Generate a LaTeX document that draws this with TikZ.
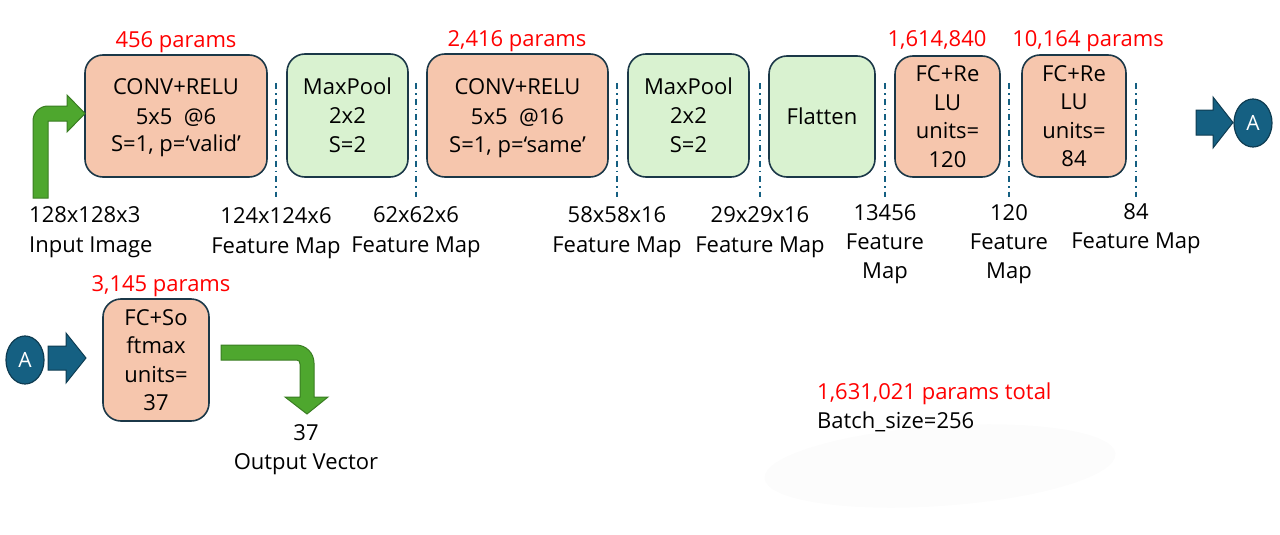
\documentclass[tikz,border=0pt]{standalone}
\usepackage{fontspec}
\setmainfont{Open Sans}
\usetikzlibrary{shapes.geometric}
\definecolor{salmon}{HTML}{F6C6AD}
\definecolor{mint}{HTML}{D9F2D0}
\definecolor{edgec}{HTML}{1B3848}
\definecolor{tealb}{HTML}{156082}
\definecolor{tealdk}{HTML}{0E3C52}
\definecolor{grn}{HTML}{4EA72E}
\definecolor{grndk}{HTML}{3A7D22}
\definecolor{pred}{HTML}{FF0000}
\begin{document}
\begin{tikzpicture}[x=1pt,y=-1pt,
  txt/.style={font=\fontsize{22}{29}\selectfont, inner sep=0pt, align=center},
  txtw/.style={font=\fontsize{22}{30}\selectfont, inner sep=0pt, align=center},
  line/.style={font=\fontsize{22}{29}\selectfont, inner sep=0pt, anchor=base},
  layer/.style={txt, draw=edgec, line width=1.6pt, rounded corners=18pt},
  convbox/.style={layer, fill=salmon},
  fcbox/.style={convbox, font=\fontsize{22}{28.5}\selectfont},
  poolbox/.style={layer, fill=mint},
  plabel/.style={txt, text=pred, anchor=base},
  sep/.style={draw=tealb, line width=1.8pt, dash pattern=on 6pt off 4pt on 1.5pt off 4pt},
  blockarrow/.style={fill=tealb, draw=tealdk, line width=1pt},
  greenarrow/.style={fill=grn, draw=grndk, line width=1pt},
  conn/.style={ellipse, fill=tealb, draw=tealdk, line width=1.2pt, minimum width=38pt, minimum height=48pt, inner sep=0pt, text=white, font=\fontsize{21}{25}\selectfont}
]
\useasboundingbox (0,0) rectangle (1280,535);

% faint blob
\fill[black!1, rotate around={4:(940,466)}] (940,466) ellipse [x radius=176, y radius=40];

% boxes
\node[convbox, minimum width=182pt, minimum height=122pt] (c1) at (176,116) {};
\node[line] (c1a) at (176,94) {CONV+RELU};
\node[line] (c1b) at (176,124) {5x5\ \ @6};
\node[line] (c1c) at (176,151.5) {S=1, p=‘valid’};
\node[poolbox, minimum width=121pt, minimum height=123pt] (p1) at (347.5,115.5) {MaxPool\\2x2\\S=2};
\node[convbox, minimum width=181pt, minimum height=123pt] (c2) at (517.5,115.5) {};
\node[line] (c2a) at (517.5,94) {CONV+RELU};
\node[line] (c2b) at (517.5,124) {5x5\ \ @16};
\node[line] (c2c) at (517.5,152) {S=1, p=‘same’};
\node[poolbox, minimum width=121pt, minimum height=123pt] (p2) at (688.5,115.5) {MaxPool\\2x2\\S=2};
\node[poolbox, minimum width=106pt, minimum height=121pt] (fl) at (822,116.5) {Flatten};
\node[fcbox, minimum width=105pt, minimum height=121pt] (f1) at (947.5,116.5) {FC+Re\\LU\\units=\\120};
\node[fcbox, minimum width=104pt, minimum height=122pt] (f2) at (1074,116) {FC+Re\\LU\\units=\\84};
\node[fcbox, minimum width=106pt, minimum height=122pt] (fs) at (156,360) {FC+So\\ftmax\\units=\\37};

% param labels
\node[plabel] (l1) at (176,48) {456 params};
\node[plabel] (l2) at (517,47) {2,416 params};
\node[plabel] (l3) at (937,47) {1,614,840};
\node[plabel] (l4) at (1088,47) {10,164 params};
\node[plabel] (l5) at (161,291) {3,145 params};
\node[plabel, anchor=base west] (tot) at (817,399) {1,631,021 params total};
\node[txt, anchor=base west] (bs) at (817,428) {Batch\_size=256};

% separators
\foreach \x in {276,416,617,760,885,1009,1136}
  \draw[sep] (\x,83) -- (\x,197);

% feature-map labels
\node[txtw, anchor=west, align=left] (in) at (29,230) {128x128x3\\\smash{Input Image}};
\node[txtw] (m1) at (276,231) {124x124x6\\\smash{Feature Map}};
\node[txtw] (m2) at (416,230) {62x62x6\\\smash{Feature Map}};
\node[txtw] (m3) at (617,230) {58x58x16\\\smash{Feature Map}};
\node[txtw] (m4) at (760,230) {29x29x16\\\smash{Feature Map}};
\node[txt] (m5) at (885,242) {13456\\Feature\\\smash{Map}};
\node[txt] (m6) at (1009,242) {120\\Feature\\\smash{Map}};
\node[txt] (m7) at (1136,226.5) {84\\\smash{Feature Map}};
\node[txt] (out) at (306,447.5) {37\\\smash{Output Vector}};

% connector circles
\node[conn] (A1) at (1253,123) {A};
\node[conn] (A2) at (25,360) {A};

% block arrows
\draw[blockarrow] (1196,110) -- (1213,110) -- (1213,97) -- (1233,122.5) -- (1213,148) -- (1213,135) -- (1196,135) -- cycle;
\draw[blockarrow] (48,346) -- (66,346) -- (66,333) -- (86,358) -- (66,383) -- (66,370) -- (48,370) -- cycle;

% green bent arrows
\draw[greenarrow] (33,198) -- (33,121) .. controls (33,112.7) and (39.7,106) .. (48,106) -- (67,106) -- (67,95) -- (85,113.5) -- (67,132) -- (67,121) -- (48,121) -- (48,198) -- cycle;
\draw[greenarrow] (221,345) -- (296,345) .. controls (306,345) and (314,353) .. (314,363) -- (314,397) -- (328,397) -- (307,414) -- (285,397) -- (300,397) -- (300,364) .. controls (300,361.5) and (299,360) .. (296.5,360) -- (221,360) -- cycle;
\end{tikzpicture}
\end{document}
